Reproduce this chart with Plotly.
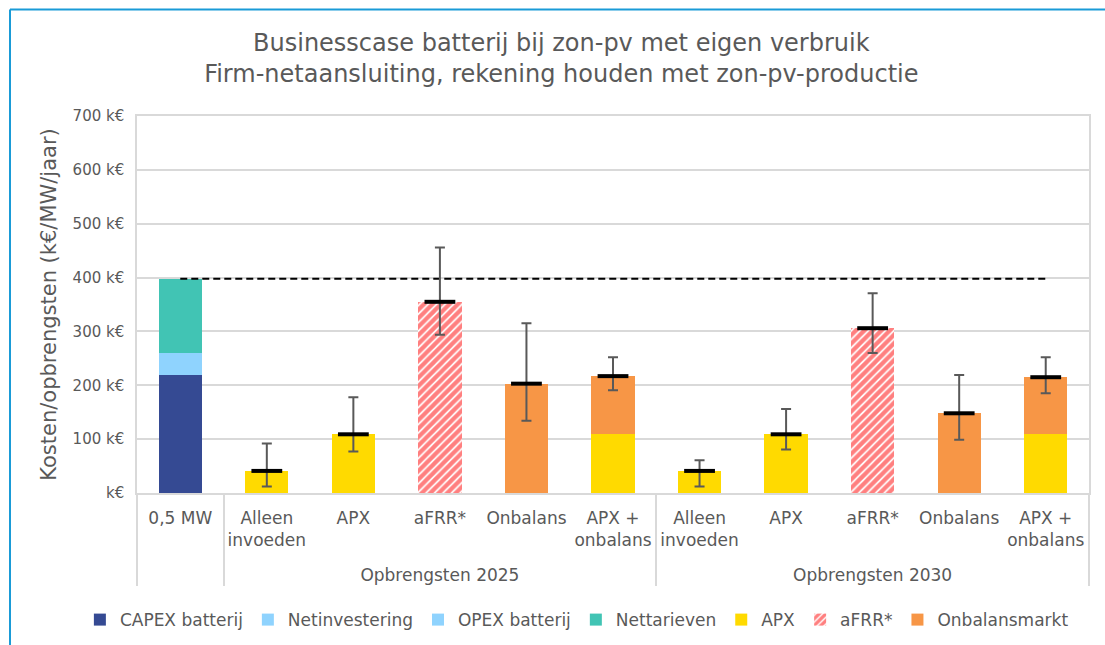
import plotly.graph_objects as go

# ---- data ----
groups = [" ", "Opbrengsten 2025", "Opbrengsten 2025", "Opbrengsten 2025", "Opbrengsten 2025", "Opbrengsten 2025",
          "Opbrengsten 2030", "Opbrengsten 2030", "Opbrengsten 2030", "Opbrengsten 2030", "Opbrengsten 2030"]
cats = ["0,5 MW", "Alleen<br>invoeden", "APX", "aFRR*", "Onbalans", "APX +<br>onbalans",
        "Alleen<br>invoeden", "APX", "aFRR*", "Onbalans", "APX +<br>onbalans"]

capex = [220, None, None, None, None, None, None, None, None, None, None]
netinvestering = [20, None, None, None, None, None, None, None, None, None, None]
opex = [20, None, None, None, None, None, None, None, None, None, None]
nettarieven = [138, None, None, None, None, None, None, None, None, None, None]
apx = [None, 41, 109, None, None, 109, 41, 109, None, None, 109]
afrr = [None, None, None, 355, None, None, None, None, 306, None, None]
onbalans = [None, None, None, None, 203, 108, None, None, None, 148, 106]

expected = [None, 41, 109, 355, 203, 217, 41, 109, 306, 148, 215]
upper = [None, 92, 178, 456, 315, 252, 61, 156, 371, 219, 252]
lower = [None, 12, 77, 294, 134, 191, 12, 81, 260, 99, 185]

cost_total = [398] * 11

ytick_vals = [0, 100, 200, 300, 400, 500, 600, 700]
ytick_text = ["k€", "100 k€", "200 k€", "300 k€", "400 k€", "500 k€", "600 k€", "700 k€"]

# ---- figure ----
# extra blank line under each category label leaves room above the group labels
cat_labels = [c + "<br> " for c in cats]
x = [groups, cat_labels]
FONT = "DejaVu Sans"
GREY = "#595959"

fig = go.Figure()
fig.add_bar(x=x, y=capex, name="CAPEX batterij", marker=dict(color="#354A93", line_width=0))
fig.add_bar(x=x, y=netinvestering, name="Netinvestering", marker=dict(color="#8FD3FE", line_width=0))
fig.add_bar(x=x, y=opex, name="OPEX batterij", marker=dict(color="#8FD3FE", line_width=0))
fig.add_bar(x=x, y=nettarieven, name="Nettarieven", marker=dict(color="#41C4B4", line_width=0))
fig.add_bar(x=x, y=apx, name="APX", marker=dict(color="#FFDA00", line_width=0))
fig.add_bar(x=x, y=afrr, name="aFRR*",
            marker=dict(color="white", line_width=0,
                        pattern=dict(shape="/", fgcolor="#FF0000", bgcolor="white", size=6, solidity=0.7)))
fig.add_bar(x=x, y=onbalans, name="Onbalansmarkt", marker=dict(color="#F79646", line_width=0))

fig.add_scatter(x=x, y=cost_total, mode="lines", showlegend=False, hoverinfo="skip",
                line=dict(color="black", width=2, dash="7px,4px"))

err_plus = [None if e is None else u - e for e, u in zip(expected, upper)]
err_minus = [None if e is None else e - l for e, l in zip(expected, lower)]
fig.add_scatter(x=x, y=expected, mode="markers", showlegend=False,
                marker=dict(symbol="line-ew", size=22, color="black", line=dict(color="black", width=4)),
                error_y=dict(type="data", symmetric=False, array=err_plus, arrayminus=err_minus,
                             color=GREY, thickness=2, width=5))

fig.update_layout(
    width=1105, height=645,
    margin=dict(l=137, r=16, t=116, b=152, autoexpand=False),
    paper_bgcolor="white", plot_bgcolor="white",
    barmode="stack", bargap=0.5,
    font=dict(family=FONT, color=GREY, size=16),
    title=dict(text="Businesscase batterij bij zon-pv met eigen verbruik<br>Firm-netaansluiting, rekening houden met zon-pv-productie",
               x=0.508, xanchor="center", xref="container", y=0.921, yanchor="middle",
               font=dict(family=FONT, size=24, color=GREY)),
    legend=dict(orientation="h", xref="paper", x=-0.06, xanchor="left",
                yref="paper", y=-0.337, yanchor="middle",
                font=dict(family=FONT, size=17, color=GREY), itemwidth=30, traceorder="normal"),
    showlegend=True,
)
fig.update_yaxes(range=[0, 700], tickvals=ytick_vals, ticktext=ytick_text,
                 showgrid=True, gridcolor="#D9D9D9", gridwidth=1.5,
                 showline=True, linecolor="#D9D9D9", linewidth=1.5, mirror=True,
                 ticks="", tickfont=dict(size=15, color=GREY), ticklabelstandoff=8,
                 zeroline=False, automargin=False,
                 title=dict(text="Kosten/opbrengsten (k€/MW/jaar)", font=dict(size=21, color=GREY), standoff=10))
fig.update_xaxes(type="multicategory", range=[-0.5, 10.5], tickangle=0,
                 showline=True, linecolor="#D9D9D9", linewidth=1.5, mirror=True,
                 showdividers=True, dividercolor="#D9D9D9", dividerwidth=1.5,
                 tickfont=dict(size=17, color=GREY), ticks="", ticklabelstandoff=9, automargin=False)

# outer frame (left and top edges)
fig.add_shape(type="line", xref="paper", yref="paper", x0=-0.1334, x1=-0.1334, y0=1.2825, y1=-0.42,
              line=dict(color="#1A9BD7", width=2))
fig.add_shape(type="line", xref="paper", yref="paper", x0=-0.1334, x1=1.03, y0=1.2825, y1=1.2825,
              line=dict(color="#1A9BD7", width=2))

fig.write_html("out.html", config={"displayModeBar": False},
               post_script="document.body.style.margin='0';")
